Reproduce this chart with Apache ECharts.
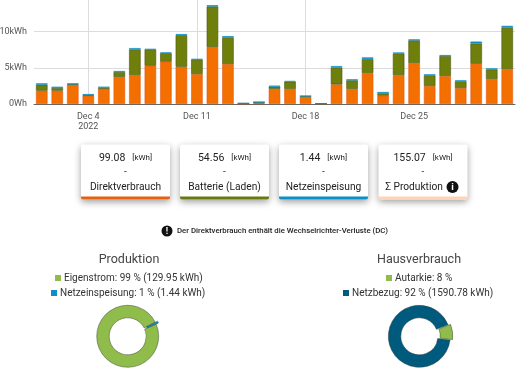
<!DOCTYPE html>
<html><head><meta charset="utf-8">
<style>html,body{margin:0;padding:0;background:#fff}#c{width:520px;height:371px}</style>
<script src="https://cdn.jsdelivr.net/npm/echarts@6/dist/echarts.min.js"></script>
</head><body><div id="c"></div>
<script>
const days = Array.from({length: 31}, (_, i) => 'Dec ' + (i + 1));
const direkt = [1840,1840,2620,1150,2110,3720,3990,5280,5830,5140,4130,7850,5510,80,90,2070,2070,1010,40,2710,2070,4270,1150,3990,5650,2480,3860,2200,5550,3440,4820];
const batterie = [830,370,90,90,140,690,3490,2200,1190,4360,1970,5600,3670,10,180,320,1010,90,0,2290,1190,1930,320,2940,3120,1470,2750,920,2790,1330,5690];
const einspeisung = [180,180,140,130,140,140,230,140,90,140,140,180,180,0,0,140,90,0,0,230,140,230,180,180,140,140,140,140,270,140,270];
const labelDays = [3, 10, 17, 24];
const lineDays = [3, 10, 17];
const cardValues = ['99.08', '54.56', '1.44', '155.07'];
const cardLabels = ['Direktverbrauch', 'Batterie (Laden)', 'Netzeinspeisung', 'Σ Produktion'];
const cardColors = ['#e8600f', '#667a10', '#0b8fc6', '#ffd3b5'];
const cardLeft = [81, 180, 279, 378.5];
const prodNames = ['Netzeinspeisung: 1 % (1.44 kWh)', 'Eigenstrom: 99 % (129.95 kWh)'];
const prodValues = [1.44, 129.95];
const hausNames = ['Autarkie: 8 %', 'Netzbezug: 92 % (1590.78 kWh)'];
const hausValues = [8, 92];

const FONT = 'Roboto';
const chart = echarts.init(document.getElementById('c'), null, {renderer: 'canvas'});

function badge(cx, cy, r, ch) {
  return [
    {type: 'circle', shape: {cx, cy, r}, style: {fill: '#111'}},
    {type: 'text', style: {x: cx, y: cy + 0.5, text: ch, fill: '#fff', font: 'bold ' + (r * 1.6) + 'px ' + FONT, textAlign: 'center', textVerticalAlign: 'middle'}}
  ];
}
const graphics = [];
cardLeft.forEach((x, i) => {
  const w = 89, cx = x + w / 2;
  graphics.push({type: 'rect', shape: {x, y: 144.5, width: w, height: 55, r: 2}, style: {fill: '#fff', shadowBlur: 7, shadowColor: 'rgba(0,0,0,0.38)', shadowOffsetY: 2.5}});
  graphics.push({type: 'rect', shape: {x, y: 196.5, width: w, height: 3, r: [0, 0, 2, 2]}, style: {fill: cardColors[i]}});
  graphics.push({type: 'text', style: {x: cx, y: 158, text: '{v|' + cardValues[i] + '}{u|[kWh]}', textAlign: 'center', textVerticalAlign: 'middle',
    rich: {v: {font: '10.5px ' + FONT, fill: '#222', padding: [0, 7, 0, 0]}, u: {font: '8px ' + FONT, fill: '#222'}}}});
  graphics.push({type: 'text', style: {x: cx, y: 172.5, text: '-', fill: '#444', font: '10px ' + FONT, textAlign: 'center', textVerticalAlign: 'middle'}});
  graphics.push({type: 'text', style: {x: i === 3 ? cx - 9 : cx, y: 187, text: cardLabels[i], fill: '#222', font: '10.2px ' + FONT, textAlign: 'center', textVerticalAlign: 'middle'}});
});
graphics.push(...badge(452.5, 187, 6, 'i'));
graphics.push(...badge(167, 231, 5.5, '!'));
graphics.push({type: 'text', style: {x: 177, y: 231, text: 'Der Direktverbrauch enthält die Wechselrichter-Verluste (DC)', fill: '#222', font: '500 7.8px ' + FONT, textAlign: 'left', textVerticalAlign: 'middle'}});

function barSeries(name, data, color, border) {
  return {name, type: 'bar', stack: 'p', data, barWidth: 11.5,
    itemStyle: {color, borderColor: border, borderWidth: 0.6}, silent: true};
}
function pie(name, center, startAngle, names, values, colors) {
  return {name, type: 'pie', center, radius: [18.5, 31], startAngle, clockwise: true,
    selectedMode: 'multiple', selectedOffset: 2.5, avoidLabelOverlap: false, silent: true,
    label: {show: false}, labelLine: {show: false},
    data: names.map((n, i) => ({name: n, value: values[i], selected: i === 0,
      itemStyle: {color: colors[i], borderColor: 'rgba(50,60,50,0.75)', borderWidth: 0.6}}))};
}
function legendItem(left, top, name) {
  return {left, top, data: [{name, icon: 'rect'}], itemWidth: 6, itemHeight: 6, itemGap: 0, padding: 0,
    itemStyle: {borderWidth: 0}, inactiveBorderWidth: 0,
    selectedMode: false, textStyle: {fontFamily: FONT, fontSize: 10, color: '#333', padding: [0, 0, 0, -2]}};
}

chart.setOption({
  animation: false,
  backgroundColor: '#fff',
  textStyle: {fontFamily: FONT},
  title: [
    {text: 'Produktion', left: 129, top: 253, textAlign: 'center', padding: 0, textStyle: {fontFamily: FONT, fontSize: 12.5, fontWeight: 'normal', color: '#444'}},
    {text: 'Hausverbrauch', left: 419, top: 253, textAlign: 'center', padding: 0, textStyle: {fontFamily: FONT, fontSize: 12.5, fontWeight: 'normal', color: '#444'}}
  ],
  legend: [
    legendItem(55, 273, prodNames[1]),
    legendItem(51, 288, prodNames[0]),
    legendItem(386, 273, hausNames[0]),
    legendItem(343, 288, hausNames[1])
  ],
  grid: {left: 34, right: 5, top: 0, bottom: 267, containLabel: false, outerBoundsMode: 'none'},
  xAxis: {
    type: 'category', data: days,
    axisLine: {show: true, lineStyle: {color: '#666', width: 1}},
    axisTick: {show: false},
    splitLine: {show: true, alignWithLabel: true, interval: i => lineDays.includes(i), lineStyle: {color: '#dcdcdc', width: 1}},
    axisLabel: {interval: i => labelDays.includes(i), margin: 8, fontFamily: FONT, fontSize: 9, lineHeight: 10, color: '#555',
      formatter: (v, i) => i === 3 ? v + '\n2022' : v}
  },
  yAxis: {
    type: 'value', min: 0, max: 14345, interval: 5000,
    axisLine: {show: false}, axisTick: {show: false},
    splitLine: {show: true, showMaxLine: false, lineStyle: {color: '#dcdcdc', width: 1}},
    axisLabel: {showMaxLabel: false, margin: 7, fontFamily: FONT, fontSize: 9, color: '#555', formatter: v => (v / 1000) > 0 ? (v / 1000) + 'kWh' : '0Wh'}
  },
  series: [
    barSeries('Direktverbrauch', direkt, '#f26f00', '#e2591c'),
    barSeries('Batterie (Laden)', batterie, '#6f7f0c', '#4a5510'),
    barSeries('Netzeinspeisung', einspeisung, '#0b8fc6', '#0b8fc6'),
    pie('Produktion', [127.7, 336.3], 27, prodNames, prodValues, ['#0b8fc6', '#8fbc4a']),
    pie('Hausverbrauch', [419.3, 336.3], 22, hausNames, hausValues, ['#8fbc4a', '#005a7d'])
  ],
  graphic: graphics
});
</script></body></html>
